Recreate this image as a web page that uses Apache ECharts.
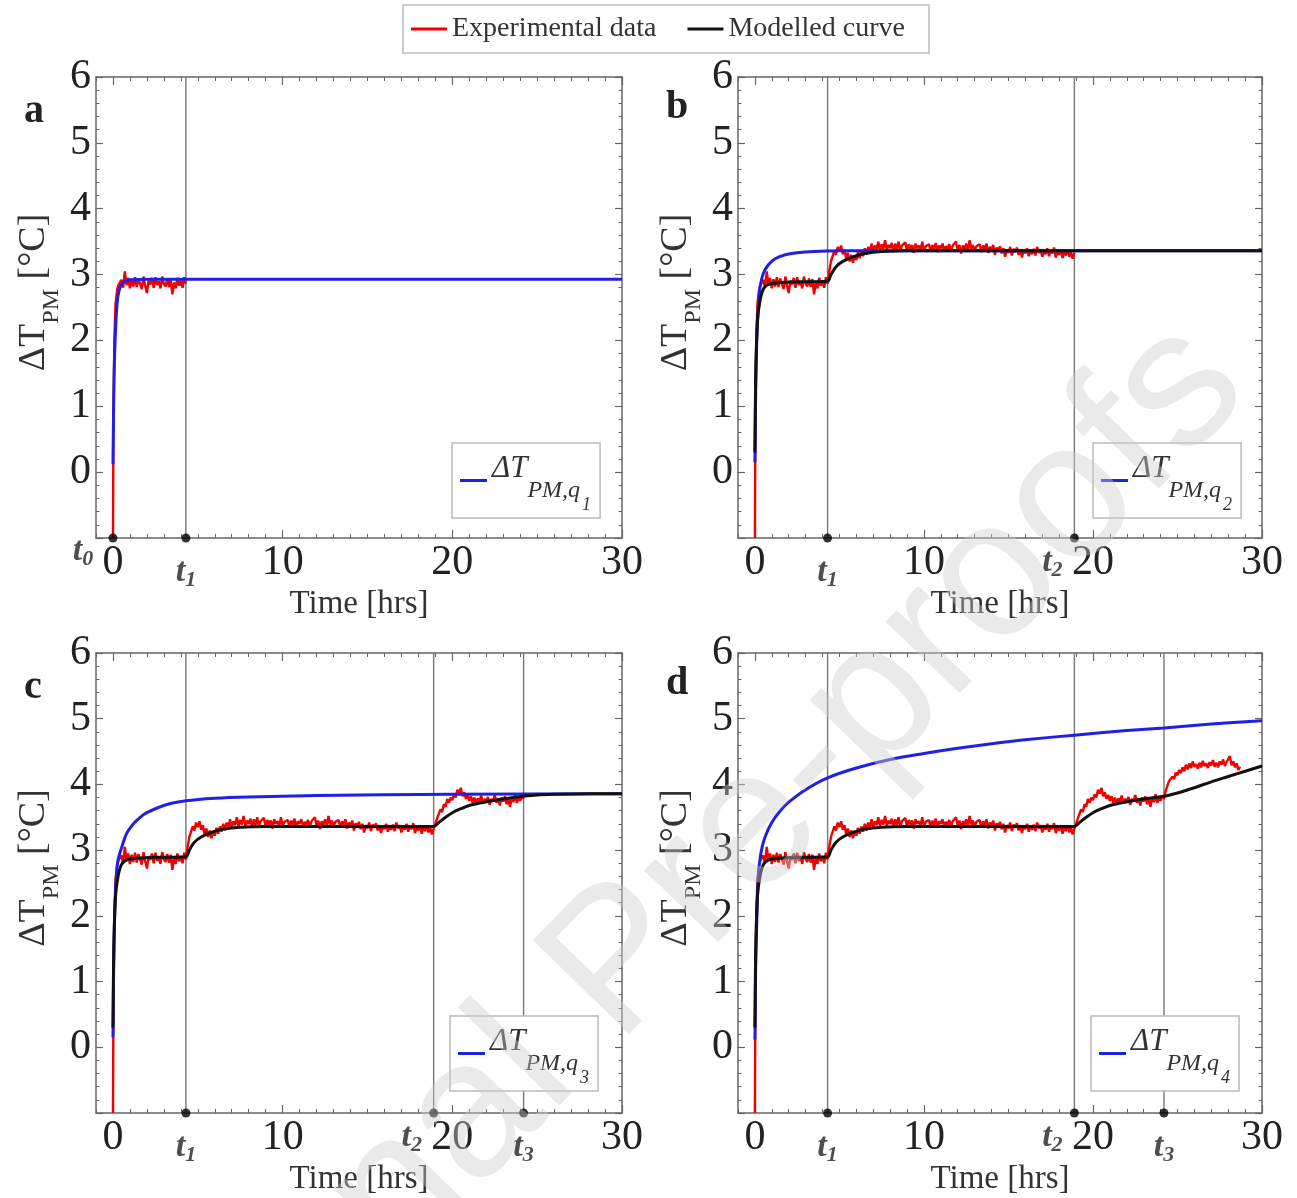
<!DOCTYPE html>
<html><head><meta charset="utf-8">
<script src="https://cdn.jsdelivr.net/npm/echarts@6/dist/echarts.min.js"></script>
<style>html,body{margin:0;padding:0;background:#fff}#c{width:1297px;height:1198px}</style>
</head><body><div id="c"></div><script>
// ---------------- data ----------------
const xTickLabels = [0, 10, 20, 30];
const panelLetters = ['a', 'b', 'c', 'd'];
const stepTimes = { t0: 0, t1: 4.3, t2: 18.9, t3: 24.2 };
const panelMarkers = [['t0', 't1'], ['t1', 't2'], ['t1', 't2', 't3'], ['t1', 't2', 't3']];
const panelLines = [['t1'], ['t1', 't2'], ['t1', 't2', 't3'], ['t1', 't2', 't3']];
const panelEnds = [4.3, 18.9, 24.2, 28.7];

// experimental record (same run, truncated per panel)
const expRiseTime = [0, 0.03, 0.08, 0.15, 0.25, 0.32];
const expRiseValue = [-1, 0.8, 2.0, 2.55, 2.78, 2.84];
const expSampleStart = 0.4, expSampleStep = 0.1;
const expSampleValue = [
  2.85, 2.92, 2.80, 3.05, 2.84, 2.95, 2.79, 2.93, 2.82, 2.96,
  2.81, 2.94, 2.86, 2.78, 2.97, 2.83, 2.72, 2.91, 2.85, 2.95,
  2.80, 2.96, 2.84, 2.90, 2.79, 2.97, 2.86, 2.82, 2.94, 2.81,
  2.93, 2.70, 2.88, 2.79, 2.95, 2.83, 2.91, 2.80, 2.96, 2.86,
  3.05, 3.20, 3.28, 3.36, 3.30, 3.42, 3.35, 3.44, 3.31, 3.38,
  3.24, 3.33, 3.20, 3.30, 3.18, 3.29, 3.22, 3.34, 3.25, 3.36,
  3.28, 3.40, 3.30, 3.42, 3.33, 3.47, 3.35, 3.44, 3.38, 3.50,
  3.36, 3.46, 3.39, 3.52, 3.37, 3.45, 3.40, 3.48, 3.34, 3.47,
  3.38, 3.50, 3.36, 3.44, 3.41, 3.49, 3.35, 3.46, 3.39, 3.45,
  3.33, 3.47, 3.40, 3.44, 3.37, 3.50, 3.36, 3.43, 3.41, 3.46,
  3.35, 3.45, 3.38, 3.48, 3.34, 3.44, 3.40, 3.47, 3.36, 3.43,
  3.39, 3.46, 3.35, 3.44, 3.41, 3.50, 3.37, 3.45, 3.32, 3.44,
  3.38, 3.47, 3.36, 3.52, 3.39, 3.45, 3.35, 3.43, 3.40, 3.46,
  3.34, 3.44, 3.38, 3.47, 3.33, 3.42, 3.37, 3.45, 3.30, 3.41,
  3.36, 3.43, 3.32, 3.40, 3.27, 3.38, 3.33, 3.42, 3.29, 3.39,
  3.34, 3.41, 3.30, 3.38, 3.26, 3.37, 3.32, 3.40, 3.28, 3.36,
  3.31, 3.39, 3.29, 3.42, 3.33, 3.38, 3.27, 3.36, 3.31, 3.40,
  3.28, 3.37, 3.32, 3.41, 3.26, 3.35, 3.30, 3.38, 3.25, 3.36,
  3.29, 3.37, 3.27, 3.34, 3.24, 3.33,
  3.40, 3.48, 3.55, 3.62, 3.58, 3.70, 3.66, 3.78, 3.72, 3.80,
  3.76, 3.85, 3.80, 3.92, 3.86, 3.95, 3.82, 3.88, 3.78, 3.84,
  3.75, 3.82, 3.72, 3.80, 3.70, 3.79, 3.74, 3.83, 3.71, 3.78,
  3.73, 3.81, 3.69, 3.78, 3.74, 3.84, 3.72, 3.79, 3.68, 3.80,
  3.74, 3.82, 3.70, 3.78, 3.66, 3.80, 3.73, 3.85, 3.72, 3.79,
  3.75, 3.83, 3.78,
  3.90, 3.98, 4.05, 4.02, 4.12, 4.08, 4.18, 4.14, 4.22, 4.17,
  4.26, 4.20, 4.30, 4.23, 4.32, 4.25, 4.35, 4.27, 4.31, 4.24,
  4.33, 4.26, 4.36, 4.28, 4.32, 4.25, 4.34, 4.29, 4.37, 4.27,
  4.33, 4.26, 4.35, 4.30, 4.38, 4.28, 4.34, 4.31, 4.43, 4.29,
  4.35, 4.26, 4.32, 4.22, 4.27
];

// modelled curves (black)
const modelTimeB = [0, 0.05, 0.15, 0.3, 0.5, 0.8, 1.5, 2.5, 4.3, 4.5, 4.8, 5.2, 5.8, 6.5, 7.5, 9, 12, 18.9, 30];
const modelValueB = [0.3, 1.5, 2.3, 2.6, 2.78, 2.85, 2.88, 2.89, 2.9, 3.0, 3.12, 3.2, 3.27, 3.32, 3.35, 3.36, 3.36, 3.36, 3.36];
const modelTimeC = [0, 0.05, 0.15, 0.3, 0.5, 0.8, 1.5, 2.5, 4.3, 4.5, 4.8, 5.2, 5.8, 6.5, 7.5, 9, 12, 18.9, 19.2, 19.6, 20, 20.5, 21, 21.7, 22.5, 23.3, 24.2, 25, 26, 28, 30];
const modelValueC = [0.3, 1.5, 2.3, 2.6, 2.78, 2.85, 2.88, 2.89, 2.9, 3.0, 3.12, 3.2, 3.27, 3.32, 3.35, 3.36, 3.36, 3.36, 3.42, 3.5, 3.57, 3.63, 3.68, 3.72, 3.76, 3.79, 3.82, 3.84, 3.85, 3.86, 3.86];
const modelTimeD = [0, 0.05, 0.15, 0.3, 0.5, 0.8, 1.5, 2.5, 4.3, 4.5, 4.8, 5.2, 5.8, 6.5, 7.5, 9, 12, 18.9, 19.2, 19.6, 20, 20.5, 21, 21.7, 22.5, 23.3, 24.2, 25, 26, 27, 28, 29, 30];
const modelValueD = [0.3, 1.5, 2.3, 2.6, 2.78, 2.85, 2.88, 2.89, 2.9, 3.0, 3.12, 3.2, 3.27, 3.32, 3.35, 3.36, 3.36, 3.36, 3.42, 3.5, 3.57, 3.63, 3.68, 3.72, 3.76, 3.79, 3.82, 3.87, 3.95, 4.04, 4.12, 4.2, 4.28];

// ΔT_PM,q curves (blue)
const qTime1 = [0, 0.05, 0.1, 0.2, 0.3, 0.45, 0.7, 1, 2, 30];
const qValue1 = [0.12, 1.2, 1.8, 2.4, 2.68, 2.83, 2.9, 2.92, 2.93, 2.93];
const qTime2 = [0, 0.05, 0.1, 0.2, 0.3, 0.5, 0.8, 1.2, 1.8, 2.5, 3.5, 5, 30];
const qValue2 = [0.15, 1.3, 1.9, 2.5, 2.8, 3.02, 3.15, 3.24, 3.3, 3.33, 3.35, 3.36, 3.36];
const qTime3 = [0, 0.05, 0.1, 0.2, 0.3, 0.5, 0.8, 1.2, 1.6, 2, 3, 4.3, 6, 8, 12, 20, 30];
const qValue3 = [0.15, 1.4, 2.0, 2.6, 2.85, 3.03, 3.25, 3.4, 3.5, 3.57, 3.68, 3.75, 3.79, 3.81, 3.83, 3.85, 3.86];
const qTime4 = [0, 0.05, 0.1, 0.2, 0.35, 0.6, 1, 1.5, 2, 3, 4.3, 6, 8, 10, 12, 14, 16, 18.9, 22, 24.2, 27, 30];
const qValue4 = [0.12, 1.3, 1.8, 2.6, 2.95, 3.2, 3.42, 3.6, 3.73, 3.92, 4.1, 4.25, 4.38, 4.47, 4.55, 4.62, 4.68, 4.75, 4.82, 4.86, 4.92, 4.97];

// ---------------- build ----------------
const FONT = '"Liberation Serif", "Times New Roman", serif';
const AX = '#666';
function pairs(ts, vs) { return ts.map((x, i) => [x, vs[i]]); }
function upto(data, end) { return data.filter(p => p[0] <= end + 1e-9); }
const expData = pairs(expRiseTime, expRiseValue).concat(
  expSampleValue.map((v, i) => [Math.round((expSampleStart + i * expSampleStep) * 10) / 10, v]));
const modelData = [null, pairs(modelTimeB, modelValueB), pairs(modelTimeC, modelValueC), pairs(modelTimeD, modelValueD)];
const qData = [pairs(qTime1, qValue1), pairs(qTime2, qValue2), pairs(qTime3, qValue3), pairs(qTime4, qValue4)];

const grids = [
  { left: 96, top: 77, width: 526, height: 461 },
  { left: 738, top: 77, width: 524, height: 461 },
  { left: 96, top: 653, width: 526, height: 460 },
  { left: 738, top: 653, width: 524, height: 460 }
];
const legendPos = [[452, 443], [1093, 443], [450, 1016], [1091, 1016]];
const letterPos = [[24, 92], [666, 88], [24, 668], [666, 664]];
const labelOffsets = { t0: [-30, -21], t2: [-22, -10] };

const xAxis = [], yAxis = [], series = [], legends = [], graphics = [];

grids.forEach((g, i) => {
  g.outerBoundsMode = 'none';
  const base = { gridIndex: i, type: 'value', min: -1, max: 30, splitLine: { show: false } };
  ['bottom', 'top'].forEach(pos => {
    xAxis.push(Object.assign({}, base, {
      position: pos, interval: 1,
      axisLine: { show: true, onZero: false, lineStyle: { color: AX, width: 1.5 } },
      axisTick: { show: true, inside: true, length: 4, lineStyle: { color: AX, width: 1 } },
      axisLabel: pos === 'bottom' ? {
        show: true, margin: 4, fontSize: 42, fontFamily: FONT, color: '#222',
        formatter: v => (xTickLabels.indexOf(v) >= 0 ? String(v) : '')
      } : { show: false },
      name: pos === 'bottom' ? 'Time [hrs]' : '',
      nameLocation: 'middle', nameGap: 50,
      nameTextStyle: { fontSize: 33, fontFamily: FONT, color: '#333' }
    }));
    xAxis.push(Object.assign({}, base, {
      position: pos,
      axisLine: { show: false, onZero: false },
      axisTick: { show: true, inside: true, length: 8, customValues: xTickLabels, lineStyle: { color: AX, width: 1.2 } },
      axisLabel: { show: false }
    }));
  });
  ['left', 'right'].forEach(pos => {
    yAxis.push({
      gridIndex: i, type: 'value', min: -1, max: 6, interval: 1, position: pos,
      splitLine: { show: false }, minorSplitLine: { show: false },
      axisLine: { show: true, onZero: false, lineStyle: { color: AX, width: 1.5 } },
      axisTick: { show: true, inside: true, length: 7, lineStyle: { color: AX, width: 1.2 } },
      minorTick: { show: true, splitNumber: 5, length: 3.5, lineStyle: { color: AX, width: 1 } },
      axisLabel: pos === 'left' ? {
        show: true, margin: 5, fontSize: 42, fontFamily: FONT, color: '#222',
        formatter: v => (v >= 0 ? String(v) : '')
      } : { show: false },
      name: pos === 'left' ? '{a|ΔT}{b|PM}{a| [°C]}' : '',
      nameLocation: 'middle', nameGap: 34,
      nameTextStyle: {
        padding: [0, 0, 0, 30],
        rich: {
          a: { fontSize: 38, fontFamily: FONT, color: '#333', lineHeight: 40, padding: [0, 0, 12, 0] },
          b: { fontSize: 24, fontFamily: FONT, color: '#333', lineHeight: 24, padding: [26, 0, 2, 0] }
        }
      }
    });
  });

  const xi = i * 4, yi = i * 2;
  // vertical step lines
  panelLines[i].forEach(k => {
    series.push({
      type: 'line', xAxisIndex: xi, yAxisIndex: yi, z: 1, symbol: 'none', silent: true,
      data: [[stepTimes[k], -1], [stepTimes[k], 6]],
      lineStyle: { color: '#777', width: 1.4 }
    });
  });
  series.push({
    name: 'Experimental data', type: 'line', xAxisIndex: xi, yAxisIndex: yi, z: 2,
    symbol: 'none', data: upto(expData, panelEnds[i]),
    itemStyle: { color: '#f00000' }, lineStyle: { color: '#f00000', width: 2.4 }
  });
  series.push({
    name: 'q' + (i + 1), type: 'line', xAxisIndex: xi, yAxisIndex: yi, z: 3,
    symbol: 'none', data: qData[i], smooth: 0.3,
    itemStyle: { color: '#1f1fe6' }, lineStyle: { color: '#1f1fe6', width: 3 }
  });
  if (modelData[i]) {
    series.push({
      name: 'Modelled curve', type: 'line', xAxisIndex: xi, yAxisIndex: yi, z: 4,
      symbol: 'none', data: modelData[i], smooth: 0.3,
      itemStyle: { color: '#111' }, lineStyle: { color: '#111', width: 3 }
    });
  }
  series.push({
    type: 'scatter', xAxisIndex: xi, yAxisIndex: yi, z: 5, clip: false, silent: true,
    symbol: 'circle', symbolSize: 9, itemStyle: { color: '#000' },
    data: panelMarkers[i].map(k => ({
      value: [stepTimes[k], -1], name: k,
      label: labelOffsets[k] ? { offset: labelOffsets[k] } : {}
    })),
    label: {
      show: true, position: 'bottom', distance: 14,
      formatter: p => '{t|t}{s|' + p.name.slice(1) + '}',
      rich: {
        t: { fontSize: 34, fontWeight: 'bold', fontStyle: 'italic', fontFamily: FONT, color: '#222', lineHeight: 34, padding: [0, 0, 2, 0] },
        s: { fontSize: 22, fontWeight: 'bold', fontStyle: 'italic', fontFamily: FONT, color: '#222', lineHeight: 22, padding: [14, 0, 0, 0] }
      }
    }
  });

  legends.push({
    data: ['q' + (i + 1)], left: legendPos[i][0], top: legendPos[i][1],
    selectedMode: false, orient: 'horizontal', icon: 'rect',
    backgroundColor: '#fff', borderColor: '#bbb', borderWidth: 1.5, borderRadius: 0,
    padding: [2, 9, 2, 8], itemWidth: 27, itemHeight: 3,
    formatter: name => '{a|ΔT}{b|PM,q}{c|' + name.slice(1) + '}',
    textStyle: {
      rich: {
        a: { fontSize: 31, fontStyle: 'italic', fontFamily: FONT, color: '#333', lineHeight: 30, padding: [8, 0, 32, 0] },
        b: { fontSize: 24, fontStyle: 'italic', fontFamily: FONT, color: '#333', lineHeight: 24, padding: [33, 0, 13, 0] },
        c: { fontSize: 18, fontStyle: 'italic', fontFamily: FONT, color: '#333', lineHeight: 18, padding: [51, 0, 1, 2] }
      }
    }
  });

  graphics.push({
    type: 'text', left: letterPos[i][0], top: letterPos[i][1], silent: true,
    style: { text: panelLetters[i], font: 'bold 40px ' + FONT, fill: '#222' }
  });
});

legends.push({
  data: ['Experimental data', 'Modelled curve'], left: 403, top: 5,
  selectedMode: false, orient: 'horizontal', icon: 'rect',
  borderColor: '#bbb', borderWidth: 1.5, padding: [9, 24, 9, 8],
  itemWidth: 36, itemHeight: 3, itemGap: 31,
  textStyle: { fontSize: 28, fontFamily: FONT, color: '#333', lineHeight: 30 }
});

graphics.push({
  type: 'text', x: 655, y: 930, rotation: 0.80, silent: true, z: 100,
  style: {
    text: 'Journal Pre-proofs', font: '195px "Liberation Sans", Arial, sans-serif',
    fill: 'rgba(205,205,205,0.42)', align: 'center', verticalAlign: 'middle',
    textAlign: 'center', textVerticalAlign: 'middle'
  }
});

const chart = echarts.init(document.getElementById('c'), null, { renderer: 'canvas' });
chart.setOption({
  animation: false, backgroundColor: '#fff',
  grid: grids, xAxis: xAxis, yAxis: yAxis, series: series, legend: legends, graphic: graphics
});
</script></body></html>
